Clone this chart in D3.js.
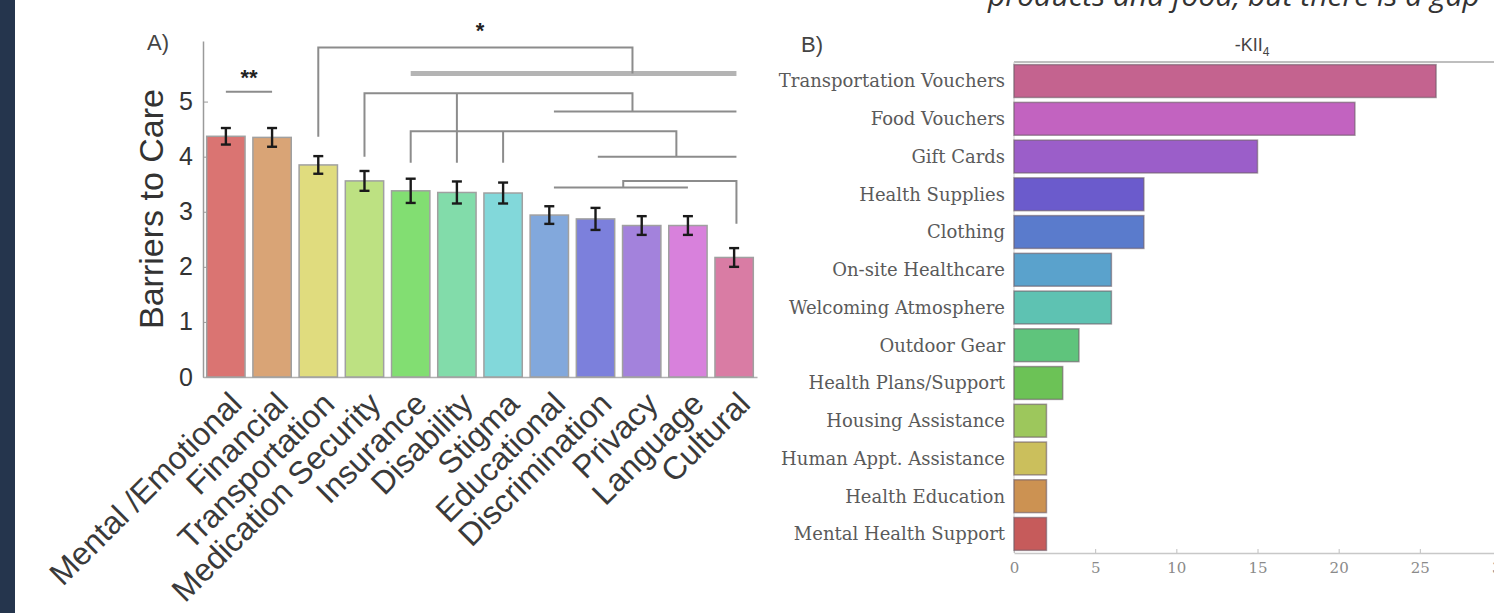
<!DOCTYPE html>
<html>
<head>
<meta charset="utf-8">
<script src="https://cdn.jsdelivr.net/npm/d3@7"></script>
<style>
  body { margin: 0; background: #ffffff; }
  svg { display: block; }
</style>
</head>
<body>
<div id="chart"></div>
<script>
// Panel A data
const barriers = ["Mental /Emotional", "Financial", "Transportation", "Medication Security",
  "Insurance", "Disability", "Stigma", "Educational", "Discrimination", "Privacy",
  "Language", "Cultural"];
const barrierMeans = [4.37, 4.35, 3.85, 3.56, 3.38, 3.35, 3.34, 2.94, 2.87, 2.75, 2.75, 2.17];
const barrierErrors = [0.15, 0.17, 0.16, 0.18, 0.22, 0.2, 0.19, 0.16, 0.2, 0.17, 0.17, 0.17];
const barrierColors = ["#da7472", "#d9a476", "#e0dc7e", "#bde182", "#82de72", "#82dcaa",
  "#82d8da", "#82a8dc", "#7c80dc", "#a382dc", "#d881dc", "#d97ca4"];
const barrierTicks = [0, 1, 2, 3, 4, 5];

// significance brackets, in [bar index, value] units
const sigPaths = [
  [[0, 5.18], [1, 5.18]],
  [[2, 4.36], [2, 5.98], [8.8, 5.98], [8.8, 5.51]],
  [[3, 4.0], [3, 5.15], [8.8, 5.15], [8.8, 4.82]],
  [[5, 3.89], [5, 5.15]],
  [[7.1, 4.82], [11.05, 4.82]],
  [[4, 3.89], [4, 4.46], [9.75, 4.46], [9.75, 4.0]],
  [[6, 3.89], [6, 4.46]],
  [[8.05, 4.0], [11.05, 4.0]],
  [[7.1, 3.44], [10, 3.44]],
  [[8.6, 3.44], [8.6, 3.56], [11.05, 3.56], [11.05, 2.78]]
];
const sigThick = [[4, 5.51], [11.05, 5.51]];
const sigStars = [{ text: "**", i: 0.5, v: 5.3 }, { text: "*", i: 5.5, v: 6.16 }];

// Panel B data
const supports = ["Transportation Vouchers", "Food Vouchers", "Gift Cards", "Health Supplies",
  "Clothing", "On-site Healthcare", "Welcoming Atmosphere", "Outdoor Gear",
  "Health Plans/Support", "Housing Assistance", "Human Appt. Assistance",
  "Health Education", "Mental Health Support"];
const supportCounts = [26, 21, 15, 8, 8, 6, 6, 4, 3, 2, 2, 2, 2];
const supportColors = ["#c4638f", "#c263c0", "#9b5ec9", "#6b5bcc", "#5a7bcc", "#5aa2cc",
  "#5ec2b2", "#5fc47c", "#6cc256", "#9dc75c", "#cbbf5c", "#cc9252", "#c65b5b"];
const supportTicks = [0, 5, 10, 15, 20, 25, 30];

const W = 1494, H = 613;
const svg = d3.select("#chart").append("svg").attr("width", W).attr("height", H);

svg.append("rect").attr("width", W).attr("height", H).attr("fill", "#ffffff");
// dark strip on the left edge
svg.append("rect").attr("x", 0).attr("y", 0).attr("width", 15).attr("height", H).attr("fill", "#25354d");

// ---------- Panel A ----------
const x = d3.scaleBand().domain(barriers).range([203, 757]).paddingInner(0.17).paddingOuter(0.08);
const y = d3.scaleLinear().domain([0, 6.1]).range([377, 41]);
const xi = v => x(barriers[0]) + x.bandwidth() / 2 + v * x.step();

const gA = svg.append("g").style("font-family", "'Liberation Sans', Arial, sans-serif");

gA.append("g")
  .attr("transform", "translate(203,0)")
  .call(d3.axisLeft(y).tickValues(barrierTicks).tickFormat(d3.format("d"))
    .tickSizeInner(-5).tickSizeOuter(0).tickPadding(10))
  .call(g => g.select(".domain").attr("stroke", "#9a9a9a").attr("stroke-width", 1.5))
  .call(g => g.selectAll(".tick line").attr("stroke", "#9a9a9a"))
  .call(g => g.selectAll("text").style("font-size", "25px").attr("fill", "#333"));

gA.append("g")
  .attr("transform", "translate(0,377)")
  .call(d3.axisBottom(x).tickSize(0).tickSizeOuter(0))
  .call(g => g.select(".domain").attr("stroke", "#b0b0b0").attr("stroke-width", 1.5))
  .call(g => g.selectAll("text")
    .style("font-size", "32px")
    .attr("fill", "#3a3a3a")
    .attr("text-anchor", "end")
    .attr("x", 0).attr("y", 0).attr("dy", 0)
    .attr("transform", "translate(18,29) rotate(-45)"));

gA.selectAll(".barA")
  .data(barriers)
  .enter().append("rect")
  .attr("class", "barA")
  .attr("x", d => x(d))
  .attr("width", x.bandwidth())
  .attr("y", (d, i) => y(barrierMeans[i]))
  .attr("height", (d, i) => y(0) - y(barrierMeans[i]))
  .attr("fill", (d, i) => barrierColors[i])
  .attr("stroke", "#a0a0a0")
  .attr("stroke-width", 1.5);

// error bars
const eb = gA.selectAll(".err").data(barriers).enter().append("g").attr("class", "err")
  .attr("stroke", "#1a1a1a").attr("stroke-width", 2.4);
eb.append("line")
  .attr("x1", d => x(d) + x.bandwidth() / 2).attr("x2", d => x(d) + x.bandwidth() / 2)
  .attr("y1", (d, i) => y(barrierMeans[i] - barrierErrors[i]))
  .attr("y2", (d, i) => y(barrierMeans[i] + barrierErrors[i]));
[-1, 1].forEach(s => {
  eb.append("line")
    .attr("x1", d => x(d) + x.bandwidth() / 2 - 5).attr("x2", d => x(d) + x.bandwidth() / 2 + 5)
    .attr("y1", (d, i) => y(barrierMeans[i] + s * barrierErrors[i]))
    .attr("y2", (d, i) => y(barrierMeans[i] + s * barrierErrors[i]));
});

// significance brackets
const line = d3.line().x(p => xi(p[0])).y(p => y(p[1]));
gA.append("path").attr("d", line(sigThick)).attr("fill", "none")
  .attr("stroke", "#b4b4b4").attr("stroke-width", 5);
gA.selectAll(".sig").data(sigPaths).enter().append("path")
  .attr("class", "sig")
  .attr("d", line)
  .attr("fill", "none")
  .attr("stroke", "#8c8c8c")
  .attr("stroke-width", 2);
gA.selectAll(".star").data(sigStars).enter().append("text")
  .attr("x", d => xi(d.i)).attr("y", d => y(d.v))
  .attr("text-anchor", "middle")
  .style("font-size", "22px").style("font-weight", "bold").attr("fill", "#222")
  .text(d => d.text);

gA.append("text")
  .attr("transform", "translate(163,209) rotate(-90)")
  .attr("text-anchor", "middle")
  .style("font-size", "34px").attr("fill", "#333")
  .text("Barriers to Care");

gA.append("text").attr("x", 147).attr("y", 50)
  .style("font-size", "22px").attr("fill", "#444").text("A)");

// ---------- Panel B ----------
const xb = d3.scaleLinear().domain([0, 30]).range([1014, 1501]);
const yb = d3.scaleBand().domain(supports).range([62, 553]).paddingInner(0.13).paddingOuter(0.07);

svg.append("defs").append("clipPath").attr("id", "clipB")
  .append("rect").attr("x", 775).attr("y", 0).attr("width", W - 775).attr("height", H);

const gB = svg.append("g").style("font-family", "'DejaVu Serif', 'Liberation Serif', serif");

gB.append("line").attr("x1", 1014).attr("x2", W).attr("y1", 62).attr("y2", 62)
  .attr("stroke", "#a8a8a8").attr("stroke-width", 1.5);
gB.append("line").attr("x1", 1014).attr("x2", 1014).attr("y1", 62).attr("y2", 553)
  .attr("stroke", "#d0d0d0").attr("stroke-width", 1);

gB.append("g")
  .attr("transform", "translate(0,553)")
  .call(d3.axisBottom(xb).tickValues(supportTicks).tickSizeInner(-4).tickSizeOuter(0).tickPadding(9))
  .call(g => g.select(".domain").attr("stroke", "#c8c8c8").attr("stroke-width", 1.5))
  .call(g => g.selectAll(".tick line").attr("stroke", "#c0c0c0"))
  .call(g => g.selectAll("text").style("font-size", "15px").attr("fill", "#8a8a8a")
    .style("font-family", "'DejaVu Serif', serif"));

gB.selectAll(".barB")
  .data(supports)
  .enter().append("rect")
  .attr("class", "barB")
  .attr("x", xb(0))
  .attr("y", d => yb(d))
  .attr("width", (d, i) => xb(supportCounts[i]) - xb(0))
  .attr("height", yb.bandwidth())
  .attr("fill", (d, i) => supportColors[i])
  .attr("stroke", "#6a5a66")
  .attr("stroke-opacity", 0.6)
  .attr("stroke-width", 1.5);

gB.append("g").attr("clip-path", "url(#clipB)")
  .selectAll(".labB")
  .data(supports)
  .enter().append("text")
  .attr("x", 1005)
  .attr("y", d => yb(d) + yb.bandwidth() / 2)
  .attr("dy", "0.35em")
  .attr("text-anchor", "end")
  .style("font-size", "18px")
  .attr("fill", "#5a5a5a")
  .text(d => d);

svg.append("text").attr("x", 801).attr("y", 52)
  .style("font-family", "'Liberation Sans', Arial, sans-serif")
  .style("font-size", "22px").attr("fill", "#444").text("B)");

const kii = svg.append("text").attr("x", 1252).attr("y", 51).attr("text-anchor", "middle")
  .style("font-family", "'Liberation Sans', Arial, sans-serif")
  .style("font-size", "18px").attr("fill", "#444");
kii.append("tspan").text("-KII");
kii.append("tspan").attr("dy", 5).style("font-size", "12px").text("4");

svg.append("text").attr("x", 988).attr("y", 6)
  .style("font-family", "'Open Sans', 'Noto Sans', sans-serif")
  .style("font-style", "italic")
  .style("font-size", "30px").attr("fill", "#333")
  .text("products and food, but there is a gap");
</script>
</body>
</html>
